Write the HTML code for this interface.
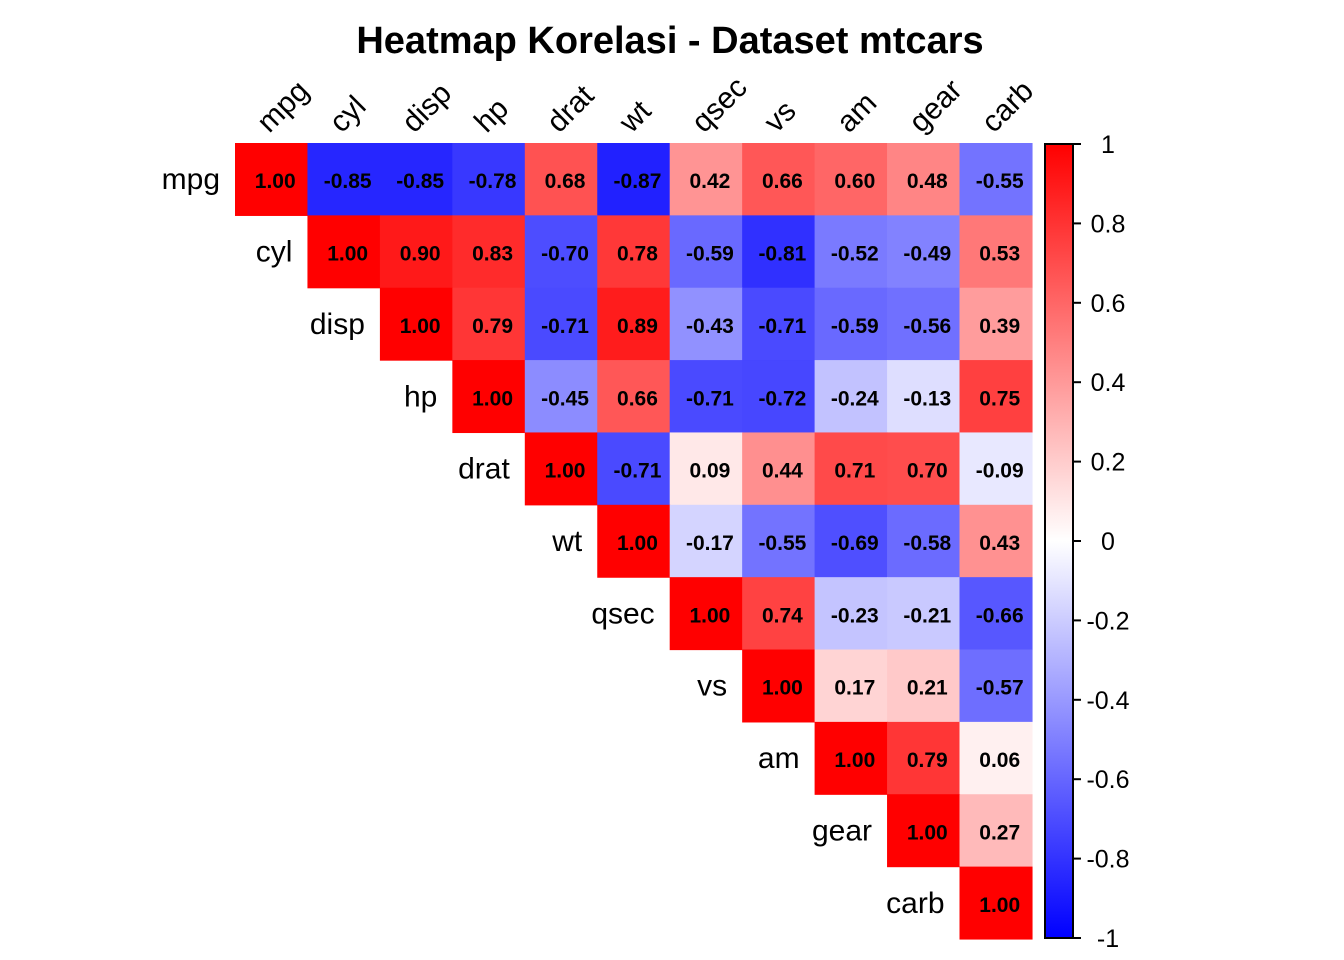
<!DOCTYPE html>
<html><head><meta charset="utf-8"><style>body{margin:0;background:#fff}svg{display:block}</style></head>
<body>
<svg id="s" width="1344" height="960" xmlns="http://www.w3.org/2000/svg" font-family="Liberation Sans, sans-serif">
<defs><linearGradient id="g" x1="0" y1="0" x2="0" y2="1">
<stop offset="0" stop-color="#ff0000"/><stop offset="0.5" stop-color="#ffffff"/><stop offset="1" stop-color="#0000ff"/></linearGradient></defs>
<text x="670" y="53" text-anchor="middle" font-size="38" font-weight="bold">Heatmap Korelasi - Dataset mtcars</text>
<rect x="1045" y="144" width="28" height="794" fill="url(#g)" stroke="#000" stroke-width="2"/>
</svg>
<script>
var s=document.getElementById('s'),NS='http://www.w3.org/2000/svg';
function el(t,a,txt){var e=document.createElementNS(NS,t);for(var k in a)e.setAttribute(k,a[k]);if(txt!=null)e.textContent=txt;s.appendChild(e);return e;}
var names=['mpg','cyl','disp','hp','drat','wt','qsec','vs','am','gear','carb'];
var v=[
[1,-.85,-.85,-.78,.68,-.87,.42,.66,.60,.48,-.55],
[1,.90,.83,-.70,.78,-.59,-.81,-.52,-.49,.53],
[1,.79,-.71,.89,-.43,-.71,-.59,-.56,.39],
[1,-.45,.66,-.71,-.72,-.24,-.13,.75],
[1,-.71,.09,.44,.71,.70,-.09],
[1,-.17,-.55,-.69,-.58,.43],
[1,.74,-.23,-.21,-.66],
[1,.17,.21,-.57],
[1,.79,.06],
[1,.27],
[1]];
var x0=235,y0=143,w=72.45,h=72.36;
function col(r){var c=Math.round(255*(1-Math.abs(r)));return r>=0?'rgb(255,'+c+','+c+')':'rgb('+c+','+c+',255)';}
for(var i=0;i<11;i++){
 for(var k=0;k<v[i].length;k++){var j=i+k,r=v[i][k];
  el('rect',{x:x0+j*w,y:y0+i*h,width:w+0.6,height:h+0.6,fill:col(r)});
  el('text',{x:x0+j*w+w/2+4,y:y0+i*h+h/2+9,'text-anchor':'middle','font-size':21,'font-weight':'bold'},r.toFixed(2));
 }
 el('text',{x:x0+i*w-15,y:y0+i*h+h/2+10,'text-anchor':'end','font-size':30},names[i]);
 var cx=x0+i*w+w/2-2;
 el('text',{x:cx,y:134,'font-size':30,transform:'rotate(-45 '+cx+' 134)'},names[i]);
}
for(var t=0;t<=10;t++){var val=1-t*0.2,y=144+t*79.4;
 el('line',{x1:1073,x2:1081,y1:y,y2:y,stroke:'#000','stroke-width':2});
 var lab=Math.abs(val)<1e-9?'0':(Math.abs(Math.abs(val)-1)<1e-9?(val>0?'1':'-1'):val.toFixed(1));
 el('text',{x:1108,y:y+9,'text-anchor':'middle','font-size':25},lab);
}
</script>
</body></html>
